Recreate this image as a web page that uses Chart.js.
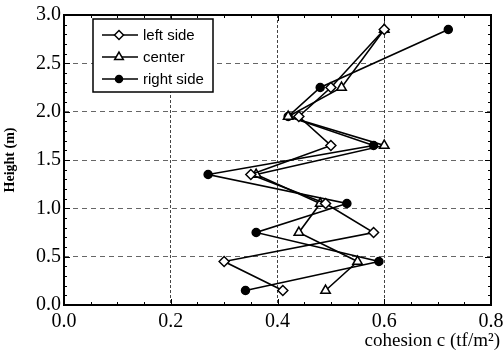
<!DOCTYPE html>
<html>
<head>
<meta charset="utf-8">
<script src="https://cdn.jsdelivr.net/npm/chart.js@4/dist/chart.umd.min.js"></script>
<style>
  html, body { margin: 0; background: #fff; }
  #wrap { width: 504px; height: 355px; }
</style>
</head>
<body>
<div id="wrap"><canvas id="chart"></canvas></div>
<script>
// depth of each sample (m), shared by all three series
const heights = [0.15, 0.45, 0.75, 1.05, 1.35, 1.65, 1.95, 2.25, 2.85];
// cohesion c (tf/m2)
const leftSide  = [0.41, 0.30, 0.58, 0.49, 0.35, 0.50, 0.44, 0.50, 0.60];
const center    = [0.49, 0.55, 0.44, 0.48, 0.36, 0.60, 0.42, 0.52, 0.60];
const rightSide = [0.34, 0.59, 0.36, 0.53, 0.27, 0.58, 0.42, 0.48, 0.72];
const seriesNames = ['left side', 'center', 'right side'];

const xMin = 0, xMax = 0.8, xStep = 0.2, xMinor = 0.05;
const yMin = 0, yMax = 3.0, yStep = 0.5, yMinor = 0.1;

Chart.defaults.font.family = "'Liberation Serif', 'DejaVu Serif', serif";
Chart.defaults.color = '#000';

function toPoints(xs) {
  return heights.map((h, i) => ({ x: xs[i], y: h }));
}

const markerStyles = [
  { pointStyle: 'rectRot', radius: 5, fill: '#fff' },
  { pointStyle: 'triangle', radius: 5.5, fill: '#fff' },
  { pointStyle: 'circle', radius: 4, fill: '#000' }
];

function makeSet(label, xs, m) {
  return {
    label: label,
    data: toPoints(xs),
    showLine: true,
    borderColor: '#000',
    borderWidth: 1.6,
    backgroundColor: m.fill,
    pointStyle: m.pointStyle,
    pointRadius: m.radius,
    pointBorderColor: '#000',
    pointBackgroundColor: m.fill,
    pointBorderWidth: 1.5,
    tension: 0
  };
}

// frame, inward major/minor ticks and the x title
const framePlugin = {
  id: 'frame',
  afterDraw(chart) {
    const { ctx, chartArea: a, scales: { x, y } } = chart;
    ctx.save();
    ctx.strokeStyle = '#000';
    ctx.lineWidth = 1;
    ctx.beginPath();
    const nx = Math.round((xMax - xMin) / xMinor);
    for (let i = 0; i <= nx; i++) {
      const v = xMin + i * xMinor;
      const px = Math.round(x.getPixelForValue(v)) + 0.5;
      const len = (i % Math.round(xStep / xMinor) === 0) ? 6 : 3;
      ctx.moveTo(px, a.bottom); ctx.lineTo(px, a.bottom - len);
      ctx.moveTo(px, a.top); ctx.lineTo(px, a.top + len);
    }
    const ny = Math.round((yMax - yMin) / yMinor);
    for (let i = 0; i <= ny; i++) {
      const v = yMin + i * yMinor;
      const py = Math.round(y.getPixelForValue(v)) + 0.5;
      const len = (i % Math.round(yStep / yMinor) === 0) ? 6 : 3;
      ctx.moveTo(a.left, py); ctx.lineTo(a.left + len, py);
      ctx.moveTo(a.right, py); ctx.lineTo(a.right - len, py);
    }
    ctx.stroke();

    ctx.lineWidth = 2;
    ctx.strokeRect(a.left, a.top, a.width, a.height);

    // x axis title, right aligned past the plot edge like the original
    ctx.fillStyle = '#000';
    ctx.font = "19px 'Liberation Serif', serif";
    ctx.textAlign = 'right';
    ctx.textBaseline = 'middle';
    ctx.fillText('cohesion c (tf/m\u00B2)', a.right + 9, 341);
    ctx.restore();
  }
};

// boxed legend with line + marker samples inside the plot
const legendPlugin = {
  id: 'boxLegend',
  afterDraw(chart) {
    const { ctx, chartArea: a } = chart;
    const bx = a.left + 29, by = a.top + 4, bw = 120, bh = 73;
    ctx.save();
    ctx.fillStyle = '#fff';
    ctx.fillRect(bx, by, bw, bh);
    ctx.strokeStyle = '#000';
    ctx.lineWidth = 1.5;
    ctx.strokeRect(bx, by, bw, bh);
    ctx.font = "15px 'Liberation Sans', Arial, sans-serif";
    ctx.textBaseline = 'middle';
    ctx.textAlign = 'left';
    chart.data.datasets.forEach((ds, i) => {
      const ry = by + 16 + i * 22;
      ctx.strokeStyle = '#000';
      ctx.lineWidth = 1.6;
      ctx.beginPath();
      ctx.moveTo(bx + 9, ry); ctx.lineTo(bx + 45, ry);
      ctx.stroke();
      ctx.fillStyle = ds.pointBackgroundColor;
      ctx.lineWidth = 1.5;
      Chart.helpers.drawPoint(ctx, {
        pointStyle: ds.pointStyle, radius: ds.pointRadius - 0.5, rotation: 0, borderWidth: 1.5
      }, bx + 26, ry);
      ctx.fillStyle = '#000';
      ctx.fillText(ds.label, bx + 50, ry + 1);
    });
    ctx.restore();
  }
};

new Chart(document.getElementById('chart'), {
  type: 'scatter',
  data: {
    datasets: [
      makeSet(seriesNames[0], leftSide, markerStyles[0]),
      makeSet(seriesNames[1], center, markerStyles[1]),
      makeSet(seriesNames[2], rightSide, markerStyles[2])
    ]
  },
  options: {
    responsive: true,
    maintainAspectRatio: false,
    animation: false,
    layout: { padding: { top: 15, right: 13, left: 0, bottom: 0 } },
    plugins: {
      legend: { display: false },
      tooltip: { enabled: false }
    },
    scales: {
      x: {
        type: 'linear',
        min: xMin,
        max: xMax,
        afterFit: s => { s.height = 50; s.paddingLeft = 0; s.paddingRight = 0; },
        ticks: {
          stepSize: xStep,
          callback: v => v.toFixed(1),
          font: { size: 20 },
          padding: 5,
          maxRotation: 0
        },
        grid: {
          drawTicks: false,
          lineWidth: 1,
          color: c => (c.tick && c.tick.value > xMin && c.tick.value < xMax) ? '#444' : 'rgba(0,0,0,0)'
        },
        border: { display: false, dash: [3, 2] }
      },
      y: {
        type: 'linear',
        min: yMin,
        max: yMax,
        afterFit: s => { s.width = 64; s.paddingTop = 0; s.paddingBottom = 0; },
        ticks: {
          stepSize: yStep,
          callback: v => v.toFixed(1),
          font: { size: 20 },
          padding: 3
        },
        title: {
          display: true,
          text: 'Height (m)',
          font: { size: 14, weight: 'bold' },
          padding: { top: 2, bottom: 0 }
        },
        grid: {
          drawTicks: false,
          lineWidth: 1,
          color: c => (c.tick && c.tick.value > yMin && c.tick.value < yMax) ? '#666' : 'rgba(0,0,0,0)'
        },
        border: { display: false, dash: [5, 4] }
      }
    }
  },
  plugins: [framePlugin, legendPlugin]
});
</script>
</body>
</html>
